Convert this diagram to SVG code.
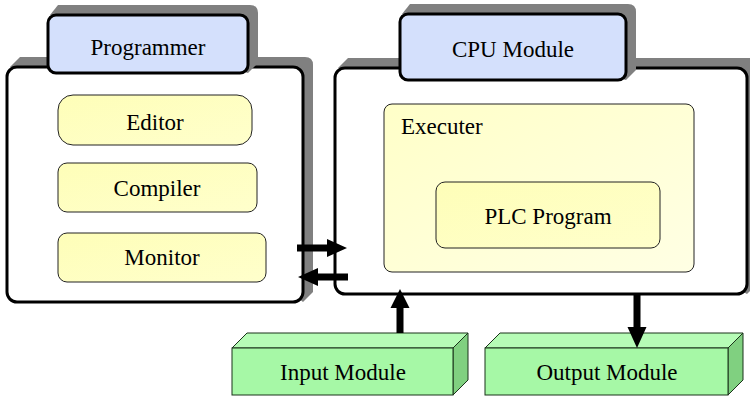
<svg xmlns="http://www.w3.org/2000/svg" width="750" height="397" viewBox="0 0 750 397">
  <style>
    text { font-family: 'Liberation Serif', serif !important; font-size: 23px; fill: #000; }
    .shadow { fill: #808080; }
    .frame { fill: #ffffff; stroke: #000; stroke-width: 3; }
    .tab { fill: #d4e0fc; stroke: #000; stroke-width: 3; }
    .item { fill: url(#yellowFill); stroke: #222; stroke-width: 1; }
    .exec { fill: url(#execFill); stroke: #222; stroke-width: 1; }
    .front { fill: #a6f8a6; stroke: #1a331a; stroke-width: 1; }
    .top { fill: #b6fcb6; stroke: #1a331a; stroke-width: 1; }
    .side { fill: #80d080; stroke: #1a331a; stroke-width: 1; }
    .c { text-anchor: middle; }
    .arrow { fill: #000; stroke: none; }
  </style>
  <defs>
    <linearGradient id="yellowFill" x1="0" y1="0" x2="1" y2="1">
      <stop offset="0" stop-color="#fefeb8"/>
      <stop offset="1" stop-color="#ffffcc"/>
    </linearGradient>
    <linearGradient id="execFill" x1="0" y1="0" x2="1" y2="1">
      <stop offset="0" stop-color="#ffffc8"/>
      <stop offset="1" stop-color="#ffffe4"/>
    </linearGradient>
  </defs>

  <!-- Programmer -->
  <g id="programmer">
    <path class="shadow" d="M10,67 L20,57 L305,57 Q313,57 313,65 L313,292 L303,302 Z"/>
    <rect class="frame" x="7" y="67" width="296" height="235" rx="10"/>
    <path class="shadow" d="M50,15 L58,5 L250,5 Q258,5 258,13 L258,63 L248,73 Z"/>
    <rect class="tab" x="48" y="15" width="200" height="58" rx="8"/>
    <text class="c" x="148" y="55" font-family="'Liberation Serif'">Programmer</text>
  </g>
  <g id="editor">
    <rect class="item" x="58" y="95" width="194" height="50" rx="15"/>
    <text class="c" x="155" y="130" font-family="'Liberation Serif'">Editor</text>
  </g>
  <g id="compiler">
    <rect class="item" x="58" y="163" width="199" height="49" rx="9"/>
    <text class="c" x="157" y="196" font-family="'Liberation Serif'">Compiler</text>
  </g>
  <g id="monitor">
    <rect class="item" x="58" y="233" width="208" height="49" rx="9"/>
    <text class="c" x="162" y="265" font-family="'Liberation Serif'">Monitor</text>
  </g>

  <!-- CPU Module -->
  <g id="cpu-module">
    <path class="shadow" d="M338,68 L348,58 L757,58 L757,284 L747,294 Z"/>
    <rect class="frame" x="335" y="68" width="412" height="226" rx="10"/>
    <path class="shadow" d="M402,14 L410,4 L628,4 Q636,4 636,12 L636,70 L626,80 Z"/>
    <rect class="tab" x="400" y="14" width="226" height="66" rx="8"/>
    <text class="c" x="513" y="57" font-family="'Liberation Serif'">CPU Module</text>
  </g>
  <g id="executer">
    <rect class="exec" x="384" y="104" width="310" height="168" rx="8"/>
    <text x="401" y="134" font-family="'Liberation Serif'">Executer</text>
  </g>
  <g id="plc-program">
    <rect class="item" x="436" y="182" width="224" height="66" rx="9"/>
    <text class="c" x="548" y="224" font-family="'Liberation Serif'">PLC Program</text>
  </g>

  <!-- I/O modules -->
  <g id="input-module">
    <polygon class="top" points="232,348 247,333 468,333 453,348"/>
    <polygon class="side" points="453,348 468,333 468,380 453,395"/>
    <rect class="front" x="232" y="348" width="221" height="47"/>
    <text class="c" x="343" y="380" font-family="'Liberation Serif'">Input Module</text>
  </g>
  <g id="output-module">
    <polygon class="top" points="485,348 500,333 743,333 728,348"/>
    <polygon class="side" points="728,348 743,333 743,380 728,395"/>
    <rect class="front" x="485" y="348" width="243" height="47"/>
    <text class="c" x="607" y="380" font-family="'Liberation Serif'">Output Module</text>
  </g>

  <!-- Connectors: solid block arrows -->
  <g id="connectors">
    <path class="arrow" d="M297,244.5 H327 V239 L347,248 L327,257 V251.5 H297 Z"/>
    <path class="arrow" d="M348,273.5 H318 V268 L298,277 L318,286 V280.5 H348 Z"/>
    <path class="arrow" d="M396.5,333 V308 H390.5 L400,289 L409.5,308 H403.5 V333 Z"/>
    <path class="arrow" d="M633.5,295 V327 H627.5 L637,348 L646.5,327 H640.5 V295 Z"/>
  </g>
</svg>
